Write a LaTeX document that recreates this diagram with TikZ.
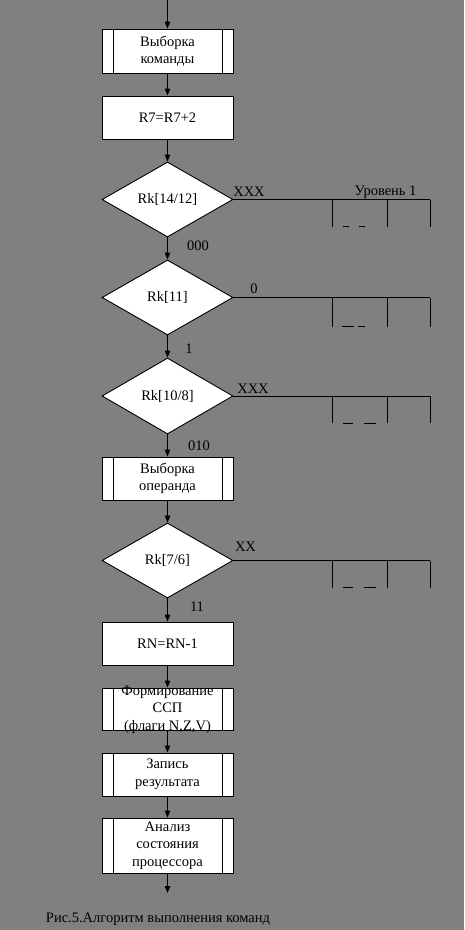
\documentclass[tikz,border=0pt]{standalone}
\usepackage{fontspec}
\setmainfont{Liberation Serif}
\usetikzlibrary{shapes.geometric,arrows.meta}
\begin{document}
\begin{tikzpicture}[x=1pt,y=-1pt,
  font=\fontsize{14.5}{17.5}\selectfont,
  every path/.style={line width=0.9pt},
  box/.style={draw=black, fill=white, minimum width=131pt, minimum height=43pt, inner sep=0pt, align=center},
  pbox/.style={box, path picture={
     \draw[line width=0.9pt] ([xshift=11pt]path picture bounding box.north west) -- ([xshift=11pt]path picture bounding box.south west);
     \draw[line width=0.9pt] ([xshift=-11pt]path picture bounding box.north east) -- ([xshift=-11pt]path picture bounding box.south east);}},
  dec/.style={diamond, draw=black, fill=white, minimum width=131pt, minimum height=75pt, inner sep=0pt, aspect=1.75},
  lbl/.style={inner sep=0pt},
  arr/.style={-{Triangle[length=7pt,width=5.5pt]}}
]
\fill[gray!100!white, fill={rgb,255:red,128;green,128;blue,128}] (0,0) rectangle (464,930);
\useasboundingbox (0,0) rectangle (464,930);

\coordinate (start) at (167.5,0);
\node[pbox, minimum height=44pt] (b1) at (167.5,51) {Выборка\\команды};
\node[box] (b2) at (167.5,117.5) {R7=R7+2};
\node[dec] (d1) at (167.5,199.5) {Rk[14/12]};
\node[dec] (d2) at (167.5,297.5) {Rk[11]};
\node[dec, minimum height=76pt] (d3) at (167.5,396) {Rk[10/8]};
\node[pbox] (b3) at (167.5,478.5) {Выборка\\операнда};
\node[dec] (d4) at (167.5,560.5) {Rk[7/6]};
\node[box] (b4) at (167.5,643.5) {RN=RN-1};
\node[pbox, minimum height=42pt] (b5) at (167.5,709) {};
\node[lbl, align=center] (b5t) at (167.5,709.5) {Формирование\\ССП\\(флаги N,Z,V)};
\node[pbox] (b6) at (167.5,774.5) {Запись\\результата};
\node[pbox, minimum height=55pt] (b7) at (167.5,845.5) {Анализ\\состояния\\процессора};
\coordinate (end) at (167.5,893);

\draw[arr] (start) -- (b1);
\draw[arr] (b1) -- (b2);
\draw[arr] (b2) -- (d1);
\draw[arr] (d1) -- (d2);
\draw[arr] (d2) -- (d3);
\draw[arr] (d3) -- (b3);
\draw[arr] (b3) -- (d4);
\draw[arr] (d4) -- (b4);
\draw[arr] (b4) -- (b5);
\draw[arr] (b5) -- (b6);
\draw[arr] (b6) -- (b7);
\draw[arr] (b7) -- (end);

% side branches
\foreach \d/\y/\t/\a/\b/\c/\e in {d1/199.5/27/343/349/359/365, d2/297.5/29/342/354/358/365, d3/396/27/343/353/364/376, d4/560.5/27/343/353/364/376}{
  \coordinate (\d e) at (430,\y);
  \draw (\d.east) -- (\d e);
  \draw (332,\y) -- ++(0,\t);
  \draw (387,\y) -- ++(0,\t);
  \draw (\d e) -- ++(0,\t);
  \draw (\a,\y+\t) -- (\b,\y+\t);
  \draw (\c,\y+\t) -- (\e,\y+\t);
}

\node[lbl] (l1) at (249,192) {XXX};
\node[lbl] (l2) at (385.5,192) {Уровень 1};
\node[lbl] (l3) at (198,246) {000};
\node[lbl] (l4) at (254,289) {0};
\node[lbl] (l5) at (189,349) {1};
\node[lbl] (l6) at (253,389) {XXX};
\node[lbl] (l7) at (199,446) {010};
\node[lbl] (l8) at (245.5,547) {XX};
\node[lbl] (l9) at (197,607) {11};
\node[lbl] (cap) at (158,919) {Рис.5.Алгоритм выполнения команд};
\end{tikzpicture}
\end{document}
